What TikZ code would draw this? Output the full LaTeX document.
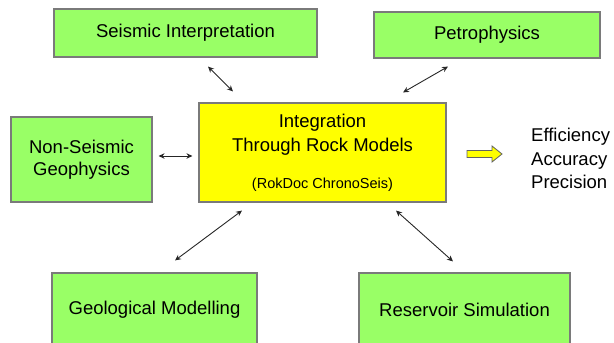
\documentclass[tikz,border=0pt]{standalone}
\usepackage{fontspec}
\setmainfont{Liberation Sans}
\usetikzlibrary{arrows.meta,calc}
\definecolor{boxgreen}{HTML}{99FF66}
\definecolor{boxyellow}{HTML}{FFFF00}
\definecolor{edgegrey}{HTML}{7A7A7A}
\tikzset{
  greenbox/.style={draw=edgegrey, line width=1.1pt, fill=boxgreen, inner sep=0pt, align=center,
    font=\fontsize{18.5}{22}\selectfont},
  yellowbox/.style={draw=edgegrey, line width=1.1pt, fill=boxyellow, inner sep=0pt},
  lbl/.style={inner sep=0pt, align=center, font=\fontsize{18.5}{24}\selectfont},
  smalllbl/.style={inner sep=0pt, font=\fontsize{14.5}{17}\selectfont},
  biarrow/.style={{Stealth[length=6pt,width=5.5pt]}-{Stealth[length=6pt,width=5.5pt]}, line width=0.9pt, black!85},
}
\begin{document}
\begin{tikzpicture}[x=1pt,y=-1pt]
\useasboundingbox (0,0) rectangle (614,343);
% boxes
\node[greenbox, minimum width=263pt, minimum height=48pt] (seis) at (185.5,33) {Seismic Interpretation};
\node[greenbox, minimum width=226pt, minimum height=46pt] (petro) at (487,35) {Petrophysics};
\node[greenbox, minimum width=141pt, minimum height=85pt] (nonseis) at (81.5,159.5) {Non-Seismic\\Geophysics};
\node[yellowbox, minimum width=247pt, minimum height=99pt] (core) at (322.5,152.5) {};
\node[lbl] (coretitle) at (322.5,135) {Integration\\Through Rock Models};
\node[smalllbl] (coresub) at (322.5,185) {(RokDoc ChronoSeis)};
\node[greenbox, minimum width=205pt, minimum height=74pt] (geo) at (154.5,310) {Geological Modelling};
\node[greenbox, minimum width=211pt, minimum height=74pt] (res) at (464.5,310) {Reservoir Simulation};
% outcome
\node[inner sep=0pt, anchor=west, align=left, font=\fontsize{18.5}{23.5}\selectfont] (outcome) at (531,158.5) {Efficiency\\Accuracy\\Precision};
\draw[draw=edgegrey!80!black, line width=0.8pt, fill=boxyellow]
  (467,150.5) -- (492,150.5) -- (492,146) -- (502,154) -- (492,162) -- (492,157.5) -- (467,157.5) -- cycle;
% connectors
\draw[biarrow] ($(seis.south)+(22.5,9)$) -- ($(core.north)+(-89.5,-11)$);
\draw[biarrow] ($(petro.south)+(-39,8)$) -- ($(core.north)+(80.5,-10)$);
\draw[biarrow] ($(nonseis.east)+(6,-3.5)$) -- ($(core.west)+(-6,3.5)$);
\draw[biarrow] ($(core.south)+(-80.5,8)$) -- ($(geo.north)+(20.5,-12)$);
\draw[biarrow] ($(core.south)+(73.5,8)$) -- ($(res.north)+(-11.5,-11)$);
\end{tikzpicture}
\end{document}
